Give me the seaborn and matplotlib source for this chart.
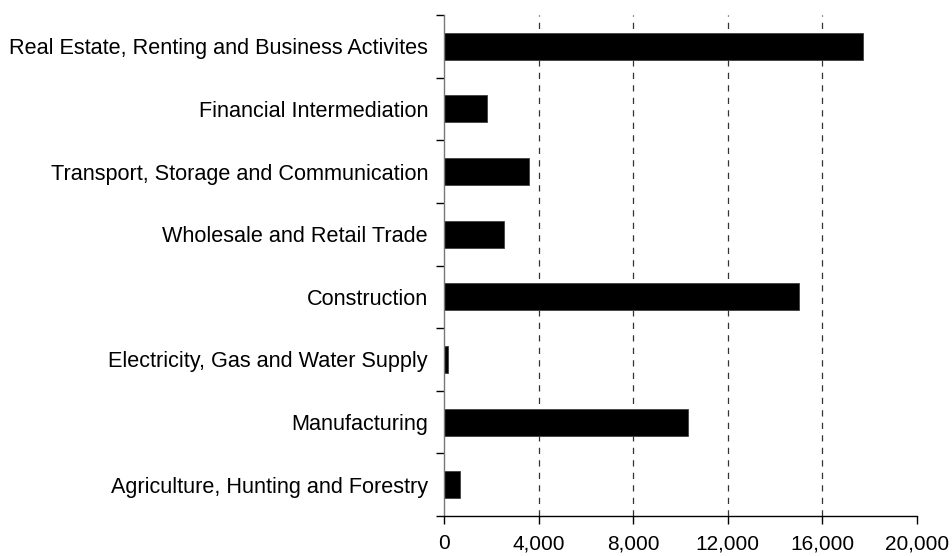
import numpy as np
import pandas as pd
import matplotlib.pyplot as plt
import seaborn as sns

# ── data ────────────────────────────────────────────────────
sectors = [
    "Real Estate, Renting and Business Activites",
    "Financial Intermediation",
    "Transport, Storage and Communication",
    "Wholesale and Retail Trade",
    "Construction",
    "Electricity, Gas and Water Supply",
    "Manufacturing",
    "Agriculture, Hunting and Forestry",
]
values = [17730, 1800, 3610, 2540, 15020, 170, 10300, 690]
x_ticks = [0, 4000, 8000, 12000, 16000, 20000]

df = pd.DataFrame({"sector": sectors, "value": values})

# ── plot ────────────────────────────────────────────────────
sns.set_style("white")
plt.rcParams["font.family"] = ["Liberation Sans", "DejaVu Sans"]

fig = plt.figure(figsize=(9.52, 5.56), dpi=100)
ax = fig.add_axes([444 / 952, 1 - 516 / 556, (917 - 444) / 952, (516 - 15) / 556])

sns.barplot(data=df, y="sector", x="value", orient="h", color="black",
            width=0.43, saturation=1, ax=ax, edgecolor="#404040", linewidth=0.6)

ax.set_xlim(0, 20000)
ax.set_ylim(len(sectors) - 0.5, -0.5)
ax.set_xticks(x_ticks)
ax.set_xticklabels([f"{v:,}" for v in x_ticks])
ax.set_xlabel("")
ax.set_ylabel("")

# dashed vertical gridlines, none at the right end
ax.grid(axis="x", color="#333333", linestyle=(0, (5, 5)), linewidth=0.9)
ax.set_axisbelow(True)
for gl in ax.xaxis.get_gridlines():
    gl.set_visible(False)
for gl in ax.xaxis.get_gridlines()[1:-1]:
    gl.set_visible(True)

# category separators as minor ticks on the y axis
ax.set_yticks(np.arange(-0.5, len(sectors)), minor=True)
ax.tick_params(axis="y", which="major", length=0, pad=11.5, labelsize=15.6,
               labelcolor="black")
ax.tick_params(axis="y", which="minor", length=6, width=1, color="black",
               direction="out", left=True)
ax.tick_params(axis="x", length=6, width=1, color="black", direction="out",
               bottom=True, pad=7, labelsize=15, labelcolor="black")

sns.despine(ax=ax)
ax.spines["left"].set_color("#777777")
ax.spines["bottom"].set_color("black")
ax.spines["left"].set_linewidth(1)
ax.spines["bottom"].set_linewidth(1)

plt.savefig("out.png", dpi=100)
